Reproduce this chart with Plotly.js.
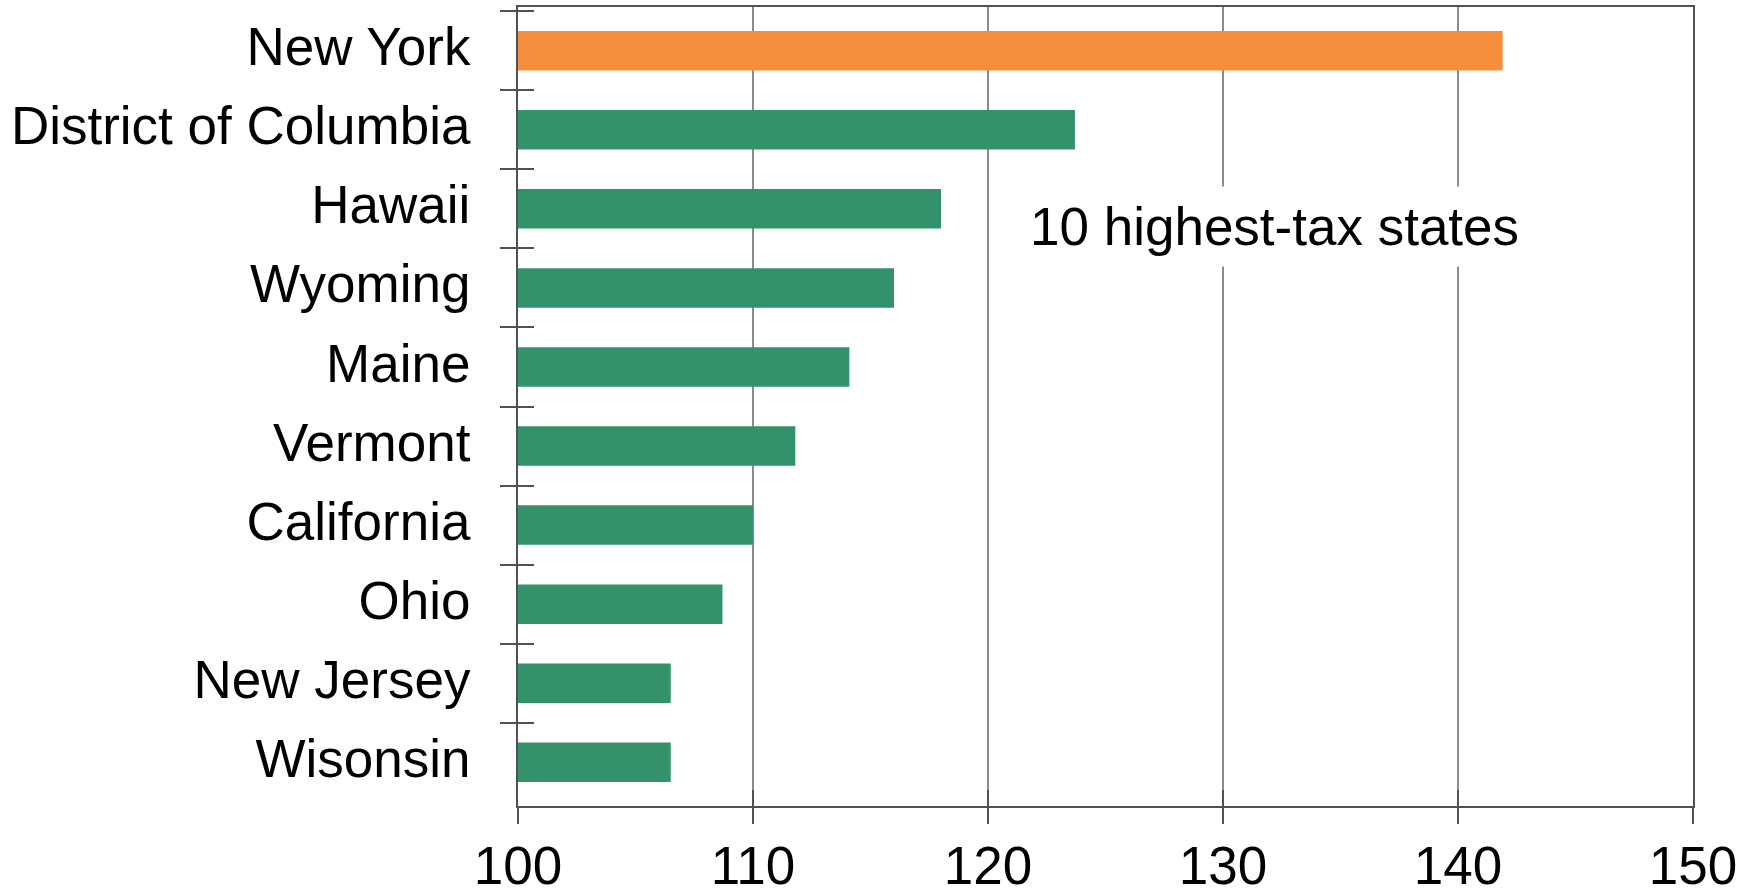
<!DOCTYPE html>
<html>
<head>
<meta charset="utf-8">
<script src="https://cdn.plot.ly/plotly-3.0.1.min.js"></script>
<style>html,body{margin:0;padding:0;background:#fff;}#chart{width:1755px;height:894px;}</style>
</head>
<body>
<div id="chart"></div>
<script>
// Data
const states = ["New York", "District of Columbia", "Hawaii", "Wyoming", "Maine",
                "Vermont", "California", "Ohio", "New Jersey", "Wisonsin"];
const taxIndex = [141.9, 123.7, 118.0, 116.0, 114.1, 111.8, 110.0, 108.7, 106.5, 106.5];
const xTicks = [100, 110, 120, 130, 140, 150];
const annotationText = "10 highest-tax states";

// Styles
const ORANGE = "#F58E3C";
const GREEN = "#33926B";
const AXIS = "#4D5258";
const GRID = "#8C8C8C";
const FONT = "Liberation Sans, Arial, Helvetica, sans-serif";
const colors = states.map((s, i) => i === 0 ? ORANGE : GREEN);

const bars = {
  type: "bar", orientation: "h",
  x: taxIndex, y: states,
  marker: {color: colors, line: {width: 0}},
  xaxis: "x", yaxis: "y",
  hoverinfo: "x+y"
};
// invisible helper traces so the overlay axes (inner halves of the crossing ticks) share the scales
const helperY = {
  type: "scatter", mode: "markers", x: taxIndex, y: states,
  marker: {opacity: 0}, xaxis: "x", yaxis: "y2", hoverinfo: "skip", showlegend: false
};
const helperX = {
  type: "scatter", mode: "markers", x: taxIndex, y: states,
  marker: {opacity: 0}, xaxis: "x2", yaxis: "y", hoverinfo: "skip", showlegend: false
};

const layout = {
  width: 1755, height: 894,
  margin: {l: 518, r: 62, t: 7, b: 88},
  paper_bgcolor: "#fff", plot_bgcolor: "#fff",
  showlegend: false,
  bargap: 0.5,
  font: {family: FONT, size: 53, color: "#000"},
  xaxis: {
    range: [100, 150], tickvals: xTicks, ticktext: xTicks.map(String),
    showgrid: true, gridcolor: GRID, gridwidth: 1.5,
    zeroline: false,
    showline: true, linecolor: AXIS, linewidth: 2, mirror: true,
    ticks: "outside", ticklen: 16, tickwidth: 2, tickcolor: AXIS,
    tickfont: {family: FONT, size: 53, color: "#000"},
    ticklabelstandoff: -4
  },
  xaxis2: {
    overlaying: "x", anchor: "y", side: "bottom",
    range: [100, 150], tickvals: xTicks,
    showgrid: false, zeroline: false, showline: false, showticklabels: false,
    ticks: "inside", ticklen: 16, tickwidth: 2, tickcolor: AXIS
  },
  yaxis: {
    type: "category", categoryorder: "array", categoryarray: states,
    autorange: "reversed",
    tickson: "boundaries",
    showgrid: false, zeroline: false,
    showline: true, linecolor: AXIS, linewidth: 2, mirror: true,
    ticks: "outside", ticklen: 16, tickwidth: 2, tickcolor: AXIS,
    tickfont: {family: FONT, size: 53, color: "#000"},
    ticklabelstandoff: 35,
    ticklabelshift: 4
  },
  yaxis2: {
    overlaying: "y", anchor: "x", side: "left",
    type: "category", categoryorder: "array", categoryarray: states,
    autorange: "reversed",
    tickson: "boundaries",
    showgrid: false, zeroline: false, showline: false, showticklabels: false,
    ticks: "inside", ticklen: 16, tickwidth: 2, tickcolor: AXIS
  },
  annotations: [{
    text: annotationText, xref: "paper", yref: "paper",
    x: 0.644, y: 0.725, xanchor: "center", yanchor: "middle",
    showarrow: false, bgcolor: "#fff", borderpad: 10,
    font: {family: FONT, size: 53, color: "#000"}
  }]
};

Plotly.newPlot("chart", [bars, helperY, helperX], layout, {displayModeBar: false, staticPlot: true});
</script>
</body>
</html>
